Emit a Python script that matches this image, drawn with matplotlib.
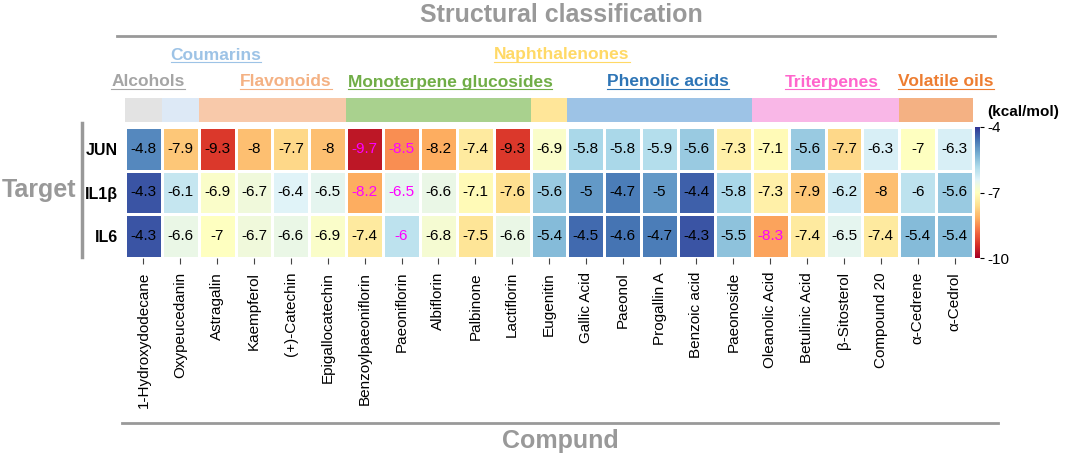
import numpy as np
import matplotlib
matplotlib.use("Agg")
import matplotlib.pyplot as plt
from matplotlib.lines import Line2D

plt.rcParams['font.family'] = ['Liberation Sans', 'DejaVu Sans']
plt.rcParams['axes.unicode_minus'] = False

compounds = ["1-Hydroxydodecane", "Oxypeucedanin", "Astragalin", "Kaempferol",
             "(+)-Catechin", "Epigallocatechin", "Benzoylpaeoniflorin",
             "Paeoniflorin", "Albiflorin", "Palbinone", "Lactiflorin",
             "Eugenitin", "Gallic Acid", "Paeonol", "Progallin A",
             "Benzoic acid", "Paeonoside", "Oleanolic Acid", "Betulinic Acid",
             "β-Sitosterol", "Compound 20", "α-Cedrene", "α-Cedrol"]
targets = ["JUN", "IL1β", "IL6"]

jun = [-4.8, -7.9, -9.3, -8, -7.7, -8, -9.7, -8.5, -8.2, -7.4, -9.3, -6.9,
       -5.8, -5.8, -5.9, -5.6, -7.3, -7.1, -5.6, -7.7, -6.3, -7, -6.3]
il1b = [-4.3, -6.1, -6.9, -6.7, -6.4, -6.5, -8.2, -6.5, -6.6, -7.1, -7.6, -5.6,
        -5, -4.7, -5, -4.4, -5.8, -7.3, -7.9, -6.2, -8, -6, -5.6]
il6 = [-4.3, -6.6, -7, -6.7, -6.6, -6.9, -7.4, -6, -6.8, -7.5, -6.6, -5.4,
       -4.5, -4.6, -4.7, -4.3, -5.5, -8.3, -7.4, -6.5, -7.4, -5.4, -5.4]

# (row, column) cells written in magenta
highlighted = [(0, 6), (0, 7), (1, 6), (1, 7), (2, 7), (2, 17)]

classes = ["Alcohols", "Coumarins", "Flavonoids", "Monoterpene glucosides",
           "Naphthalenones", "Phenolic acids", "Triterpenes", "Volatile oils"]
class_sizes = [1, 1, 4, 5, 1, 5, 4, 2]
class_fill = ["#e3e3e3", "#dde9f6", "#f8c9aa", "#a9d18e", "#ffe699",
              "#9dc3e6", "#f9b7e7", "#f4b183"]
class_text = ["#a5a5a5", "#9dc3e6", "#f4b183", "#70ad47", "#ffd966",
              "#2e75b6", "#ff66cc", "#ed7d31"]

W, H = 1065, 459
fig = plt.figure(figsize=(W / 100, H / 100), dpi=100)


def fx(px):
    return px / W


def fy(py):
    return 1 - py / H


gray = "#999999"
data = np.array([jun, il1b, il6])
ncol = len(compounds)

# heatmap
ax = fig.add_axes([fx(125), fy(258), fx(973) - fx(125), fy(127) - fy(258)])
mesh = ax.pcolormesh(data, cmap="RdYlBu", vmin=-10, vmax=-4,
                     edgecolors="white", linewidth=1)
ax.set_xlim(0, ncol)
ax.set_ylim(len(targets), 0)
for r in range(len(targets)):
    for c in range(ncol):
        col = "#ff00ff" if (r, c) in highlighted else "black"
        ax.text(c + 0.5, r + 0.5, f"{data[r, c]:g}", ha="center", va="center",
                fontsize=11, color=col)
ax.set_xticks(np.arange(ncol) + 0.5)
ax.set_xticklabels(compounds, rotation=90, fontsize=11)
ax.set_yticks(np.arange(len(targets)) + 0.5)
ax.set_yticklabels(targets, fontsize=11.5, fontweight="bold")
ax.tick_params(axis="x", length=4, width=0.8, color="#444444", pad=6)
ax.tick_params(axis="y", length=0, pad=5)
for s in ax.spines.values():
    s.set_visible(False)

# class bar
axc = fig.add_axes([fx(125), fy(122), fx(973) - fx(125), fy(98) - fy(122)])
starts = np.concatenate([[0], np.cumsum(class_sizes)[:-1]])
axc.bar(starts, [1] * len(classes), width=class_sizes, align="edge",
        color=class_fill, linewidth=0)
axc.set_xlim(0, ncol)
axc.set_ylim(0, 1)
axc.axis("off")

# colorbar
cax = fig.add_axes([fx(975), fy(258), fx(980) - fx(975), fy(127) - fy(258)])
cb = fig.colorbar(mesh, cax=cax, ticks=[-4, -7, -10])
cb.outline.set_visible(False)
cax.tick_params(labelsize=11, length=3, width=0.8, pad=2)
fig.text(fx(987), fy(112), "(kcal/mol)", fontsize=11, fontweight="bold",
         ha="left", va="center")

# class labels with underline
label_x = [148, 216, 286, 450, 562, 668, 832, 946]
label_y = [82, 55, 82, 82, 55, 82, 82, 82]
texts = []
for name, x, y, c in zip(classes, label_x, label_y, class_text):
    t = fig.text(fx(x), fy(y), name, fontsize=12.5, fontweight="bold",
                 color=c, ha="center", va="center")
    texts.append(t)
fig.canvas.draw()
inv = fig.transFigure.inverted()
for t in texts:
    bb = t.get_window_extent().transformed(inv)
    fig.add_artist(Line2D([bb.x0, bb.x1], [bb.y0 + 0.002, bb.y0 + 0.002],
                          transform=fig.transFigure, color=t.get_color(),
                          lw=0.8))

# titles and frame lines
fig.text(fx(561), fy(15), "Structural classification", fontsize=18,
         fontweight="bold", color=gray, ha="center", va="center")
fig.add_artist(Line2D([fx(117), fx(995)], [fy(36), fy(36)],
                      transform=fig.transFigure, color=gray, lw=2))
fig.text(fx(560), fy(441), "Compund", fontsize=18, fontweight="bold",
         color=gray, ha="center", va="center")
fig.add_artist(Line2D([fx(122), fx(998)], [fy(423), fy(423)],
                      transform=fig.transFigure, color=gray, lw=2))
fig.text(fx(2), fy(190), "Target", fontsize=18, fontweight="bold",
         color=gray, ha="left", va="center")
fig.add_artist(Line2D([fx(82), fx(82)], [fy(123), fy(257)],
                      transform=fig.transFigure, color=gray, lw=2.5))

fig.savefig("out.png", dpi=100)
